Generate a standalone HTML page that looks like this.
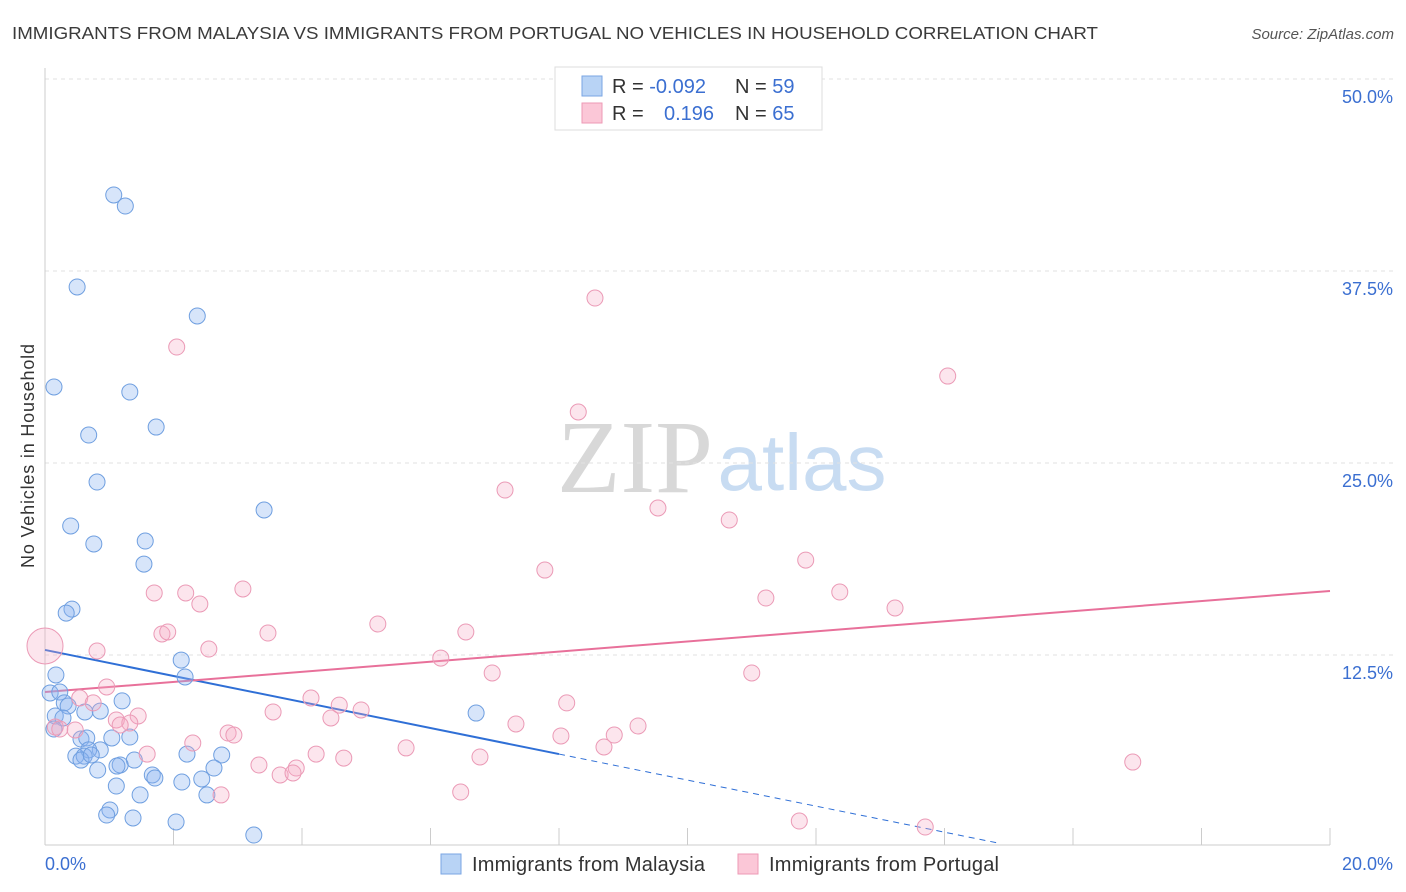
<!DOCTYPE html>
<html><head><meta charset="utf-8"><style>
body{margin:0;background:#fff;font-family:"Liberation Sans",sans-serif;}
svg{display:block}
</style></head><body>
<svg id="chart" width="1406" height="892">
<text x="12" y="39" font-size="17.5" fill="#3a3a3a" textLength="1086" lengthAdjust="spacingAndGlyphs">IMMIGRANTS FROM MALAYSIA VS IMMIGRANTS FROM PORTUGAL NO VEHICLES IN HOUSEHOLD CORRELATION CHART</text>
<text x="1394" y="39" font-size="15" fill="#555" font-style="italic" text-anchor="end">Source: ZipAtlas.com</text>
<text x="34" y="456" font-size="18" fill="#333" text-anchor="middle" textLength="224" transform="rotate(-90 34 456)">No Vehicles in Household</text>
<g>
<text x="635" y="492" font-size="104" fill="#d8d8d8" font-family="Liberation Serif,serif" text-anchor="middle">ZIP</text>
<text x="802" y="490" font-size="80" fill="#c8dcf2" text-anchor="middle">atlas</text>
</g>
<g id="grid"></g><g id="axes"></g><g id="lines"></g><g id="pts"></g>
<g>
<rect x="555" y="67" width="267" height="63" fill="#fff" stroke="#ddd"/>
<rect x="582" y="76" width="20" height="20" fill="#b8d3f5" stroke="#7aa6e3"/>
<rect x="582" y="103" width="20" height="20" fill="#fbc7d7" stroke="#ee9ab5"/>
<text x="612" y="93" font-size="20" fill="#333">R = <tspan fill="#3b6fd1">-0.092</tspan></text>
<text x="735" y="93" font-size="20" fill="#333">N = <tspan fill="#3b6fd1">59</tspan></text>
<text x="612" y="120" font-size="20" fill="#333">R = </text>
<text x="664" y="120" font-size="20" fill="#3b6fd1">0.196</text>
<text x="735" y="120" font-size="20" fill="#333">N = <tspan fill="#3b6fd1">65</tspan></text>
</g>
<g>
<rect x="441" y="854" width="20" height="20" fill="#b8d3f5" stroke="#7aa6e3"/>
<text x="472" y="871" font-size="20" fill="#333" textLength="233">Immigrants from Malaysia</text>
<rect x="738" y="854" width="20" height="20" fill="#fbc7d7" stroke="#ee9ab5"/>
<text x="769" y="871" font-size="20" fill="#333" textLength="230">Immigrants from Portugal</text>
</g>
</svg>
<script>
const blueX=[1.07,1.25,0.50,2.37,0.14,1.32,0.68,1.73,0.81,3.41,0.40,0.76,1.56,1.54,0.42,0.33,2.12,2.18,0.17,0.08,0.23,0.30,0.36,0.16,0.28,0.62,0.86,1.20,0.14,0.56,0.65,1.04,0.86,0.68,0.48,0.61,0.56,0.72,1.39,1.17,1.12,2.21,2.75,0.82,1.67,1.71,2.63,1.11,2.13,2.44,1.48,2.52,1.01,0.96,1.37,2.04,3.25,6.71,1.32];
const blueY=[42.45,41.73,36.46,34.57,29.95,29.62,26.82,27.34,23.76,21.94,20.90,19.73,19.92,18.42,15.49,15.23,12.17,11.07,11.20,10.03,10.09,9.38,9.18,8.53,8.40,8.79,8.85,9.51,7.68,7.03,7.10,7.10,6.32,6.32,5.92,5.92,5.66,5.99,5.66,5.34,5.27,6.05,5.99,5.01,4.69,4.49,5.14,3.97,4.23,4.43,3.39,3.39,2.41,2.08,1.89,1.63,0.78,8.72,7.16];
const pinkX=[0,8.56,2.05,14.05,8.30,7.16,9.54,10.65,7.78,11.84,3.08,1.70,2.19,12.37,11.22,2.41,13.23,5.18,3.47,6.55,1.82,1.91,0.81,2.55,6.16,6.96,11.00,0.96,0.54,0.75,4.14,4.58,4.92,4.45,8.12,3.55,1.45,1.11,1.32,1.17,9.23,7.33,0.16,2.85,2.94,8.86,8.03,2.30,1.59,5.62,8.70,4.22,4.65,6.77,3.33,3.91,3.66,3.86,16.93,2.74,6.47,11.74,13.70,0.47,0.23];
const pinkY=[13.09,35.74,32.55,30.66,28.32,23.24,22.07,21.29,18.03,18.68,16.80,16.54,16.54,16.60,16.21,15.82,15.56,14.52,13.93,14.00,13.87,14.00,12.76,12.89,12.30,11.33,11.33,10.42,9.70,9.38,9.70,9.24,8.92,8.40,9.38,8.79,8.53,8.27,8.07,7.94,7.88,8.01,7.81,7.42,7.29,7.29,7.23,6.77,6.05,6.45,6.51,6.05,5.79,5.86,5.34,5.14,4.69,4.82,5.53,3.39,3.58,1.69,1.30,7.62,7.68];
const yTicks=[12.5,25,37.5,50];
const yTickLabels=["12.5%","25.0%","37.5%","50.0%"];
const xTicks=[0,2,4,6,8,10,12,14,16,18,20];
const trendBlue=[12.83,-0.8475,8.0,14.86];
const trendPink=[10.09,0.329];
const NS="http://www.w3.org/2000/svg";
const X=v=>45+v*64.25, Y=v=>847-v*15.36;
function mk(p,t,a){const e=document.createElementNS(NS,t);for(const k in a)e.setAttribute(k,a[k]);document.getElementById(p).appendChild(e);return e;}
yTicks.forEach((t,i)=>{
 const l=mk('grid','line',{x1:45,x2:1395,y1:Y(t),y2:Y(t),stroke:'#e2e2e2','stroke-dasharray':'4,4'});
 
 
 const tx=mk('grid','text',{x:1393,y:Y(t)+24,'font-size':18,fill:'#3b6fd1','text-anchor':'end'});
 tx.textContent=yTickLabels[i];
 
 
});
const ax=mk('axes','line',{x1:45,x2:45,y1:68,y2:845,stroke:'#ccc'});


const bx=mk('axes','line',{x1:45,x2:1330,y1:845,y2:845,stroke:'#ccc'});


xTicks.forEach(t=>{const l=mk('axes','line',{x1:X(t),x2:X(t),y1:828,y2:845,stroke:'#ccc'});
 
 });
let t1=mk('axes','text',{x:45,y:870,'font-size':18,fill:'#3b6fd1'});t1.textContent='0.0%';


let t2=mk('axes','text',{x:1393,y:870,'font-size':18,fill:'#3b6fd1','text-anchor':'end'});t2.textContent='20.0%';


blueX.forEach((x,i)=>{const c=mk('pts','circle',{cx:X(x),cy:Y(blueY[i]),r:8,fill:'rgba(140,180,240,0.35)',stroke:'#6f9fe0','stroke-width':1});
 
 });
pinkX.forEach((x,i)=>{const c=mk('pts','circle',{cx:X(x),cy:Y(pinkY[i]),r:i===0?18:8,fill:'rgba(245,170,195,0.3)',stroke:'#eb9ab6','stroke-width':1});
 
 });
const [bi,bs,be,bd]=trendBlue;
let l1=mk('lines','line',{x1:X(0),y1:Y(bi),x2:X(be),y2:Y(bi+bs*be),stroke:'#2f6fd6','stroke-width':2});


let l2=mk('lines','line',{x1:X(be),y1:Y(bi+bs*be),x2:X(bd),y2:Y(bi+bs*bd),stroke:'#2f6fd6','stroke-width':1,'stroke-dasharray':'6,5'});


let l3=mk('lines','line',{x1:X(0),y1:Y(trendPink[0]),x2:X(20),y2:Y(trendPink[0]+trendPink[1]*20),stroke:'#e8709a','stroke-width':2});


</script>
</body></html>
